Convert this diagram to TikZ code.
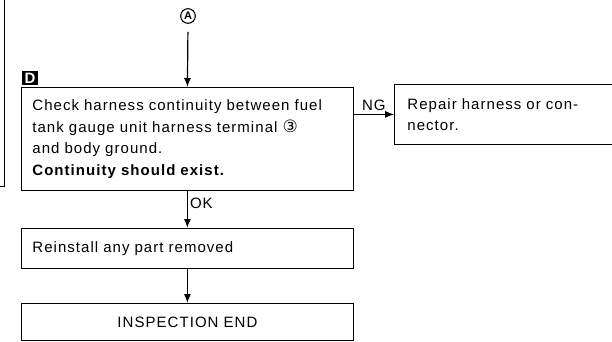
\documentclass[tikz,border=0pt]{standalone}
\usepackage{fontspec}
\setmainfont{Liberation Sans}[LetterSpace=7]
\newfontfamily\symfont{DejaVu Sans}
\usetikzlibrary{arrows.meta}

\tikzset{
  stepbox/.style={draw, line width=0.8pt, anchor=north west, align=left,
    inner xsep=11pt, font=\fontsize{15}{21.5}\selectfont},
  tagbox/.style={fill=black, text=white, inner xsep=2.5pt, inner ysep=1.5pt,
    font=\fontsize{15}{15}\selectfont\bfseries},
  markcirc/.style={circle, draw, line width=1.1pt, inner sep=1.3pt,
    font=\fontsize{11}{11}\selectfont\bfseries}
}

\begin{document}
\begin{tikzpicture}[x=1pt, y=-1pt, >={Latex[length=9pt,width=7pt]}]
            \useasboundingbox (0,0) rectangle (612,341);
            \clip (0,0) rectangle (612,341);

            \draw[line width=0.8pt] (0,186) -- (4,186) -- (4,0);

            \node[markcirc] (ptA) at (188,16) {A};
            \node[tagbox] (tagD) at (30,78) {D};

            \node[stepbox, text width=310pt, minimum height=103pt] (check) at (21,87)
              {Check harness continuity between fuel\\
               tank gauge unit harness terminal {\symfont\fontsize{17}{17}\selectfont ③}\\
               and body ground.\\
               \textbf{Continuity should exist.}};
            \node[stepbox, text width=220pt, minimum height=60pt, inner xsep=13pt] (repair) at (394,84)
              {Repair harness or con-\\nector.};
            \node[stepbox, text width=310pt, minimum height=40pt] (reinstall) at (21,228)
              {Reinstall any part removed};
            \node[stepbox, text width=310pt, minimum height=37pt, align=center] (inspect) at (21,303)
              {INSPECTION END};

            \draw[->, line width=1.2pt, shorten <=8pt] (ptA.south) -- (check.north);
            \draw[->, line width=1.2pt] (check.south) -- node[pos=0.35, right, inner sep=2pt, font=\fontsize{15}{15}\selectfont] {OK} (reinstall.north);
            \draw[->, line width=1.2pt] (reinstall.south) -- (inspect.north);
            \draw[->, line width=0.8pt] (check.east |- repair.west) -- node[above, font=\fontsize{15}{15}\selectfont] {NG} (repair.west);
        \end{tikzpicture}
\end{document}
